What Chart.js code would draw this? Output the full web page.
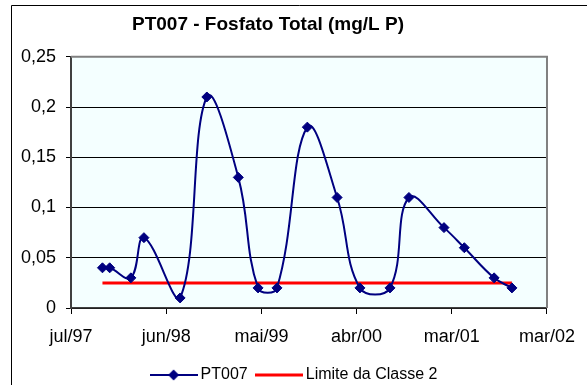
<!DOCTYPE html>
<html>
<head>
<meta charset="utf-8">
<script src="https://cdn.jsdelivr.net/npm/chart.js@4"></script>
<style>
  body { margin: 0; background: #fff; }
  canvas { display: block; }
</style>
</head>
<body>
<canvas id="chart" width="587" height="385"></canvas>
<script>
// PT007 - Fosfato Total, sample dates and values
const sampleDates = [
  '1997-10-22', '1997-11-17', '1998-02-01', '1998-03-20', '1998-07-28',
  '1998-11-01', '1999-02-22', '1999-05-04', '1999-07-11', '1999-10-28',
  '2000-02-12', '2000-05-04', '2000-08-20', '2000-10-27', '2001-03-02',
  '2001-05-14', '2001-08-29', '2001-11-01'
];
const pt007Values = [
  0.04, 0.04, 0.03, 0.07, 0.01,
  0.21, 0.13, 0.02, 0.02, 0.18,
  0.11, 0.02, 0.02, 0.11, 0.08,
  0.06, 0.03, 0.02
];
const limitValue = 0.025; // Limite da Classe 2
const xTickLabels = ['jul/97', 'jun/98', 'mai/99', 'abr/00', 'mar/01', 'mar/02'];
const seriesNames = ['PT007', 'Limite da Classe 2'];

// x axis is days since jul/97, excel-style date axis with a fixed day step
const axisStart = Date.UTC(1997, 6, 1);
const tickStepDays = 342;
const dayOf = s => (Date.parse(s) - axisStart) / 86400000;

const ptPoints = sampleDates.map((d, i) => ({ x: dayOf(d), y: pt007Values[i] }));
const limitPoints = [
  { x: dayOf(sampleDates[0]), y: limitValue },
  { x: dayOf(sampleDates[sampleDates.length - 1]), y: limitValue }
];

// legend icons: line with (optional) diamond, like the excel legend
function legendIcon(color, width, diamond) {
  const c = document.createElement('canvas');
  c.width = 48; c.height = 12;
  const g = c.getContext('2d');
  g.strokeStyle = color;
  g.lineWidth = width;
  g.beginPath(); g.moveTo(0, 6); g.lineTo(48, 6); g.stroke();
  if (diamond) {
    g.fillStyle = color;
    g.beginPath();
    g.moveTo(24, 0.5); g.lineTo(29.5, 6); g.lineTo(24, 11.5); g.lineTo(18.5, 6);
    g.closePath(); g.fill();
  }
  return c;
}

const frame = {
  id: 'frame',
  afterLayout(chart) {
    // excel centres title/legend a bit differently
    chart.titleBlock.left -= 17; chart.titleBlock.right -= 17;
    chart.legend.left += 11; chart.legend.right += 11;
    chart.legend.top += 8; chart.legend.bottom += 8;
  },
  beforeDraw(chart) {
    const { ctx, chartArea: a } = chart;
    ctx.save();
    ctx.fillStyle = '#F4FFFF';
    ctx.fillRect(a.left, a.top, a.right - a.left, a.bottom - a.top);
    ctx.restore();
  },
  beforeDatasetsDraw(chart) {
    const { ctx, chartArea: a } = chart;
    ctx.save();
    ctx.strokeStyle = '#808080';
    ctx.lineWidth = 2;
    ctx.beginPath();
    ctx.moveTo(a.left, a.top); ctx.lineTo(a.right, a.top); ctx.lineTo(a.right, a.bottom);
    ctx.stroke();
    ctx.restore();
  },
  afterDraw(chart) {
    const ctx = chart.ctx;
    ctx.save();
    ctx.strokeStyle = '#000';
    ctx.lineWidth = 1;
    ctx.beginPath();
    ctx.moveTo(11.5, chart.height); ctx.lineTo(11.5, 5.5); ctx.lineTo(chart.width, 5.5);
    ctx.stroke();
    ctx.restore();
  }
};

Chart.defaults.font.family = '"Liberation Sans", Arial, sans-serif';
Chart.defaults.color = '#000';

new Chart(document.getElementById('chart'), {
  type: 'line',
  data: {
    datasets: [{
      label: seriesNames[0],
      data: ptPoints,
      borderColor: '#000080',
      borderWidth: 2,
      tension: 0.4,
      pointStyle: 'rectRot',
      pointRadius: 5,
      pointBackgroundColor: '#000080',
      pointBorderColor: '#000080',
      pointBorderWidth: 1
    }, {
      label: seriesNames[1],
      data: limitPoints,
      borderColor: '#FF0000',
      borderWidth: 3,
      pointRadius: 0,
      tension: 0
    }]
  },
  options: {
    responsive: false,
    animation: false,
    layout: { padding: { left: 12, right: 29, top: 0, bottom: 0 } },
    plugins: {
      title: {
        display: true,
        text: 'PT007 - Fosfato Total (mg/L P)',
        color: '#000',
        font: { size: 19, weight: 'bold' },
        padding: { top: 13, bottom: 21 }
      },
      legend: {
        position: 'bottom',
        labels: {
          usePointStyle: true,
          pointStyleWidth: 38,
          padding: 12,
          font: { size: 16 },
          color: '#000',
          generateLabels: () => [
            { text: seriesNames[0], pointStyle: legendIcon('#000080', 2, true), datasetIndex: 0, lineWidth: 0 },
            { text: seriesNames[1], pointStyle: legendIcon('#FF0000', 3, false), datasetIndex: 1, lineWidth: 0 }
          ]
        }
      },
      tooltip: { enabled: false }
    },
    scales: {
      x: {
        type: 'linear',
        min: 0,
        max: tickStepDays * (xTickLabels.length - 1),
        afterBuildTicks: s => { s.ticks = xTickLabels.map((_, i) => ({ value: i * tickStepDays })); },
        afterFit: s => { s.height = 39; },
        ticks: {
          callback: (v, i) => xTickLabels[i],
          autoSkip: false,
          maxRotation: 0,
          padding: 12,
          color: '#000',
          font: { size: 18 }
        },
        grid: { drawOnChartArea: false, tickLength: 6, tickColor: '#000' },
        border: { color: '#404040', width: 1.5 }
      },
      y: {
        min: 0,
        max: 0.25,
        afterFit: s => { s.width = 59; },
        ticks: {
          stepSize: 0.05,
          padding: 10,
          color: '#000',
          font: { size: 18 },
          callback: v => String(+v.toFixed(2)).replace('.', ',')
        },
        grid: {
          color: c => (c.tick && c.tick.value >= 0.25 ? '#808080' : '#000'),
          tickLength: 5,
          tickColor: '#000'
        },
        border: { color: '#404040', width: 2 }
      }
    }
  },
  plugins: [frame]
});
</script>
</body>
</html>
